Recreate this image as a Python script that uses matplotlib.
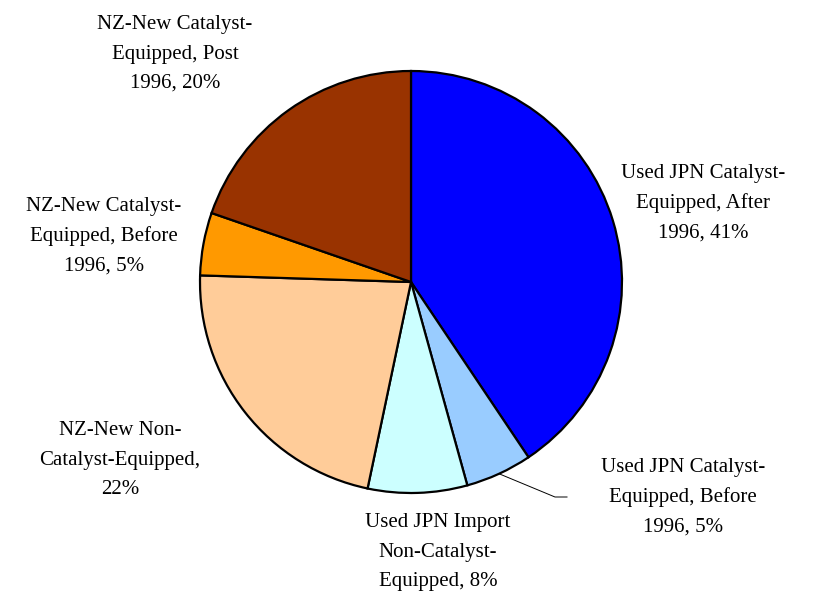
import numpy as np
import matplotlib.pyplot as plt

plt.rcParams['font.family'] = ['Liberation Serif', 'DejaVu Serif']

# share of vehicles by category (clockwise from 12 o'clock)
names = ['Used JPN Catalyst-\nEquipped, After\n1996',
         'Used JPN Catalyst-\nEquipped, Before\n1996',
         'Used JPN Import\nNon-Catalyst-\nEquipped',
         'NZ-New Non-\nCatalyst-Equipped,\n',
         'NZ-New Catalyst-\nEquipped, Before\n1996',
         'NZ-New Catalyst-\nEquipped, Post\n1996']
shares = [40.6, 5.1, 7.6, 22.2, 4.8, 19.7]
colours = ['#0000FF', '#99CCFF', '#CCFFFF', '#FFCC99', '#FF9900', '#993300']

# label centres in pixels (x, y from top)
label_pos = [(703, 203), (683, 497), (438, 552), (120, 460), (104, 236), (175, 54)]

W, H = 817, 595
fig = plt.figure(figsize=(W / 100, H / 100), dpi=100)
ax = fig.add_axes([0, 0, 1, 1])

cx, cy, r = 411, H - 282, 211
wedges, _ = ax.pie(shares, colors=colours, startangle=90, counterclock=False,
                   center=(cx, cy), radius=r, frame=True,
                   wedgeprops=dict(edgecolor='black', linewidth=1.6))
ax.set_xlim(0, W)
ax.set_ylim(0, H)
ax.set_aspect('equal')
ax.axis('off')

for i, (name, val) in enumerate(zip(names, shares)):
    pct = '%d%%' % round(val)
    if name.endswith('\n'):
        txt = name + pct
    else:
        txt = name + ', ' + pct
    x, y = label_pos[i]
    if i == 1:
        # leader line from the wedge edge to its label
        w = wedges[i]
        mid = np.deg2rad((w.theta1 + w.theta2) / 2)
        px, py = cx + r * np.cos(mid), cy + r * np.sin(mid)
        ax.plot([px, 555, 567], [py, H - 497, H - 497], color='black', lw=0.7)
    ax.text(x, H - y, txt, ha='center', va='center', fontsize=15,
            linespacing=1.72)

fig.savefig('out.png', dpi=100)
